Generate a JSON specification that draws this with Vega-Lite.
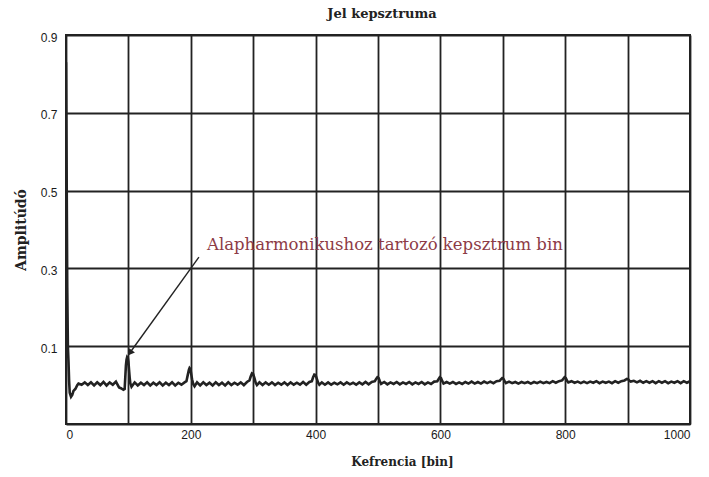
{
  "$schema": "https://vega.github.io/schema/vega-lite/v6.json",
  "width": 624,
  "height": 389,
  "autosize": {"type": "none"},
  "padding": {"left": 66, "top": 35, "right": 19, "bottom": 53},
  "background": "white",
  "title": {"text": "Jel kepsztruma", "font": "DejaVu Serif", "fontSize": 13, "fontWeight": "bold", "color": "#222", "offset": 10, "dx": 4},
  "config": {
    "view": {"stroke": "#222", "strokeWidth": 2},
    "axis": {"gridColor": "#222", "gridWidth": 1.8, "gridOpacity": 1, "domain": false, "ticks": false, "labelFont": "Liberation Sans", "labelFontSize": 12, "labelFontWeight": 500, "labelColor": "#1a1a1a", "titleFont": "DejaVu Serif", "titleFontWeight": "bold", "titleColor": "#222"}
  },
  "datasets": {
    "cep": [
      {"k":0,"a":0.83},{"k":1,"a":0.55},{"k":2,"a":0.25},{"k":3,"a":0.1},{"k":4,"a":0.06},{"k":5,"a":0.01},{"k":6,"a":-0.02},{"k":8,"a":-0.03},{"k":10,"a":-0.025},{"k":12,"a":-0.015},{"k":15,"a":-0.01},{"k":18,"a":0.0},{"k":20,"a":0.004},
      {"k":25,"a":0.001},{"k":30,"a":0.007},{"k":35,"a":0.0},{"k":40,"a":0.007},{"k":45,"a":-0.001},{"k":50,"a":0.007},{"k":55,"a":0.0},{"k":60,"a":0.008},{"k":65,"a":-0.001},{"k":70,"a":0.007},{"k":75,"a":0.001},{"k":80,"a":0.009},{"k":85,"a":-0.006},{"k":88,"a":-0.008},{"k":92,"a":-0.012},{"k":94,"a":-0.01},
      {"k":95,"a":0.02},{"k":96,"a":0.05},{"k":97,"a":0.065},{"k":98,"a":0.072},{"k":99,"a":0.07},{"k":100,"a":0.06},{"k":101,"a":0.04},{"k":102,"a":0.02},{"k":103,"a":0.005},{"k":105,"a":-0.004},
      {"k":110,"a":0.007},{"k":115,"a":-0.001},{"k":120,"a":0.006},{"k":125,"a":0.0},{"k":130,"a":0.007},{"k":135,"a":-0.001},{"k":140,"a":0.006},{"k":145,"a":0.0},{"k":150,"a":0.007},{"k":155,"a":-0.001},{"k":160,"a":0.006},{"k":165,"a":0.0},{"k":170,"a":0.007},{"k":175,"a":-0.001},{"k":180,"a":0.006},{"k":185,"a":0.001},{"k":190,"a":0.007},
      {"k":193,"a":0.01},{"k":195,"a":0.025},{"k":197,"a":0.04},{"k":198,"a":0.044},{"k":199,"a":0.042},{"k":200,"a":0.035},{"k":202,"a":0.015},{"k":204,"a":0.002},{"k":206,"a":-0.003},
      {"k":210,"a":0.007},{"k":215,"a":-0.001},{"k":220,"a":0.007},{"k":225,"a":0.0},{"k":230,"a":0.006},{"k":235,"a":-0.001},{"k":240,"a":0.007},{"k":245,"a":0.0},{"k":250,"a":0.006},{"k":255,"a":-0.001},{"k":260,"a":0.007},{"k":265,"a":0.0},{"k":270,"a":0.006},{"k":275,"a":0.001},{"k":280,"a":0.007},{"k":285,"a":0.0},{"k":290,"a":0.008},
      {"k":294,"a":0.012},{"k":296,"a":0.022},{"k":298,"a":0.03},{"k":300,"a":0.028},{"k":302,"a":0.018},{"k":304,"a":0.006},{"k":306,"a":0.0},
      {"k":310,"a":0.007},{"k":315,"a":0.0},{"k":320,"a":0.007},{"k":325,"a":0.001},{"k":330,"a":0.007},{"k":335,"a":0.0},{"k":340,"a":0.006},{"k":345,"a":0.001},{"k":350,"a":0.007},{"k":355,"a":0.0},{"k":360,"a":0.007},{"k":365,"a":0.001},{"k":370,"a":0.006},{"k":375,"a":0.001},{"k":380,"a":0.008},{"k":385,"a":0.001},{"k":390,"a":0.008},
      {"k":394,"a":0.01},{"k":396,"a":0.02},{"k":398,"a":0.027},{"k":400,"a":0.026},{"k":402,"a":0.016},{"k":404,"a":0.006},{"k":406,"a":0.001},
      {"k":410,"a":0.007},{"k":415,"a":0.001},{"k":420,"a":0.007},{"k":425,"a":0.001},{"k":430,"a":0.006},{"k":435,"a":0.002},{"k":440,"a":0.007},{"k":445,"a":0.001},{"k":450,"a":0.007},{"k":455,"a":0.002},{"k":460,"a":0.006},{"k":465,"a":0.001},{"k":470,"a":0.007},{"k":475,"a":0.002},{"k":480,"a":0.008},{"k":485,"a":0.002},{"k":490,"a":0.008},
      {"k":495,"a":0.01},{"k":497,"a":0.016},{"k":499,"a":0.02},{"k":501,"a":0.018},{"k":503,"a":0.01},{"k":505,"a":0.003},
      {"k":510,"a":0.008},{"k":515,"a":0.002},{"k":520,"a":0.007},{"k":525,"a":0.003},{"k":530,"a":0.008},{"k":535,"a":0.002},{"k":540,"a":0.007},{"k":545,"a":0.003},{"k":550,"a":0.008},{"k":555,"a":0.002},{"k":560,"a":0.007},{"k":565,"a":0.003},{"k":570,"a":0.008},{"k":575,"a":0.002},{"k":580,"a":0.007},{"k":585,"a":0.003},{"k":590,"a":0.009},
      {"k":595,"a":0.01},{"k":597,"a":0.015},{"k":599,"a":0.02},{"k":601,"a":0.018},{"k":603,"a":0.01},{"k":605,"a":0.004},
      {"k":610,"a":0.008},{"k":615,"a":0.004},{"k":620,"a":0.008},{"k":625,"a":0.003},{"k":630,"a":0.007},{"k":635,"a":0.003},{"k":640,"a":0.008},{"k":645,"a":0.004},{"k":650,"a":0.009},{"k":655,"a":0.004},{"k":660,"a":0.008},{"k":665,"a":0.004},{"k":670,"a":0.009},{"k":675,"a":0.005},{"k":680,"a":0.009},{"k":685,"a":0.005},{"k":690,"a":0.01},
      {"k":695,"a":0.011},{"k":697,"a":0.015},{"k":699,"a":0.018},{"k":701,"a":0.016},{"k":703,"a":0.01},{"k":705,"a":0.005},
      {"k":710,"a":0.009},{"k":715,"a":0.005},{"k":720,"a":0.008},{"k":725,"a":0.004},{"k":730,"a":0.008},{"k":735,"a":0.005},{"k":740,"a":0.008},{"k":745,"a":0.004},{"k":750,"a":0.008},{"k":755,"a":0.005},{"k":760,"a":0.009},{"k":765,"a":0.005},{"k":770,"a":0.008},{"k":775,"a":0.005},{"k":780,"a":0.01},{"k":785,"a":0.006},{"k":790,"a":0.01},
      {"k":795,"a":0.012},{"k":797,"a":0.016},{"k":799,"a":0.02},{"k":801,"a":0.018},{"k":803,"a":0.011},{"k":805,"a":0.007},
      {"k":810,"a":0.01},{"k":815,"a":0.006},{"k":820,"a":0.009},{"k":825,"a":0.005},{"k":830,"a":0.009},{"k":835,"a":0.005},{"k":840,"a":0.009},{"k":845,"a":0.006},{"k":850,"a":0.01},{"k":855,"a":0.005},{"k":860,"a":0.009},{"k":865,"a":0.006},{"k":870,"a":0.009},{"k":875,"a":0.005},{"k":880,"a":0.01},{"k":885,"a":0.006},{"k":890,"a":0.01},
      {"k":895,"a":0.012},{"k":897,"a":0.014},{"k":899,"a":0.016},{"k":901,"a":0.015},{"k":903,"a":0.011},{"k":905,"a":0.009},
      {"k":910,"a":0.011},{"k":915,"a":0.007},{"k":920,"a":0.011},{"k":925,"a":0.006},{"k":930,"a":0.01},{"k":935,"a":0.006},{"k":940,"a":0.01},{"k":945,"a":0.005},{"k":950,"a":0.01},{"k":955,"a":0.006},{"k":960,"a":0.01},{"k":965,"a":0.005},{"k":970,"a":0.009},{"k":975,"a":0.006},{"k":980,"a":0.01},{"k":985,"a":0.005},{"k":990,"a":0.01},{"k":995,"a":0.006},{"k":1000,"a":0.01}
    ],
    "note": [
      {"k":213,"a":0.329,"k2":101,"a2":0.08,"hk":103,"ha":0.083,"tk":226,"ta":0.347,"label":"Alapharmonikushoz tartozó kepsztrum bin"}
    ]
  },
  "layer": [
    {
      "data": {"name": "cep"},
      "mark": {"type": "line", "color": "#222", "strokeWidth": 2.6, "clip": true},
      "encoding": {
        "x": {"field": "k", "type": "quantitative", "scale": {"domain": [0, 1000], "nice": false},
          "axis": {"title": "Kefrencia [bin]", "titleFontSize": 12, "titlePadding": 16, "titleX": 336, "values": [0,100,200,300,400,500,600,700,800,900,1000], "format": "d", "labelExpr": "datum.value % 200 == 0 ? datum.label : ''", "labelPadding": 5}},
        "y": {"field": "a", "type": "quantitative", "scale": {"domain": [-0.1, 0.9], "nice": false, "zero": false},
          "axis": {"title": "Amplitúdó", "titleFontSize": 14, "titlePadding": 12, "values": [-0.1,0,0.1,0.2,0.3,0.4,0.5,0.6,0.7,0.8,0.9], "format": ".1f", "labelExpr": "indexof(['0.1','0.3','0.5','0.7','0.9'], datum.label) >= 0 ? datum.label : ''", "labelPadding": 9, "labelOffset": 2}}
      }
    },
    {
      "data": {"name": "note"},
      "mark": {"type": "rule", "color": "#222", "strokeWidth": 1.4},
      "encoding": {
        "x": {"field": "k", "type": "quantitative"},
        "y": {"field": "a", "type": "quantitative"},
        "x2": {"field": "k2"},
        "y2": {"field": "a2"}
      }
    },
    {
      "data": {"name": "note"},
      "mark": {"type": "point", "shape": "triangle-up", "filled": true, "color": "#222", "size": 50, "angle": 216, "opacity": 1},
      "encoding": {
        "x": {"field": "hk", "type": "quantitative"},
        "y": {"field": "ha", "type": "quantitative"}
      }
    },
    {
      "data": {"name": "note"},
      "mark": {"type": "text", "font": "DejaVu Serif", "fontSize": 16.5, "color": "#8d3b46", "align": "left", "baseline": "alphabetic"},
      "encoding": {
        "x": {"field": "tk", "type": "quantitative"},
        "y": {"field": "ta", "type": "quantitative"},
        "text": {"field": "label"}
      }
    }
  ]
}
